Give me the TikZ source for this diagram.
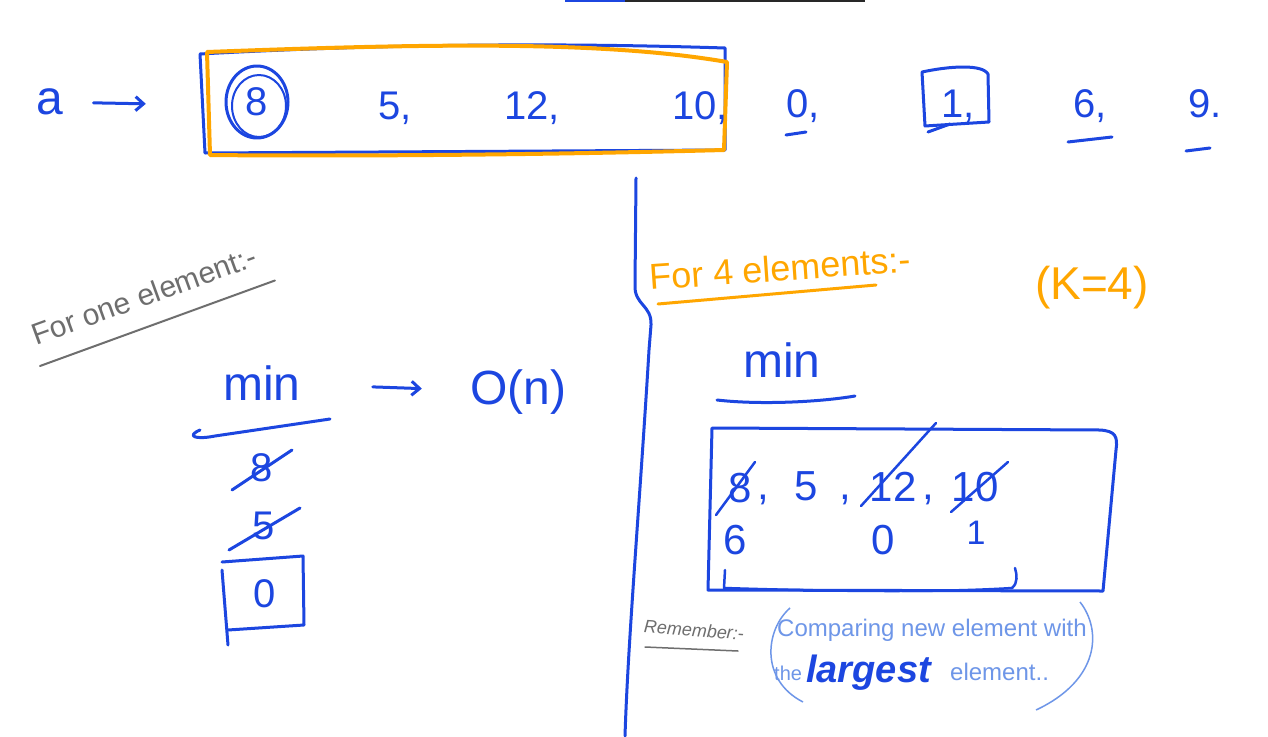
\documentclass[tikz,border=0pt]{standalone}
\usepackage{fontspec}
\setmainfont{Liberation Sans}
\usetikzlibrary{arrows.meta,shapes.geometric}
\definecolor{pen}{RGB}{28,70,224}
\definecolor{hi}{RGB}{255,166,0}
\definecolor{pencil}{RGB}{110,110,110}
\definecolor{soft}{RGB}{110,150,232}
\definecolor{bar}{RGB}{40,40,40}
\tikzset{
  ink/.style={draw=pen,line width=3pt,line cap=round,line join=round},
  hink/.style={draw=hi,line width=4pt,line cap=round,line join=round},
  gink/.style={draw=pencil,line width=2pt,line cap=round},
  num/.style={text=pen,font=\fontsize{40}{42}\selectfont,inner sep=0pt},
  bignum/.style={text=pen,font=\fontsize{48}{50}\selectfont,inner sep=0pt},
  cell/.style={text=pen,font=\fontsize{42}{44}\selectfont,inner sep=0pt},
  arr/.style={ink,-{Straight Barb[length=8pt,width=14pt]}}
}
\begin{document}
\begin{tikzpicture}[x=1pt,y=-1pt]
\useasboundingbox[fill=white] (0,0) rectangle (1268,736);
% top screen bar
\fill[pen] (565,0) rectangle (625,2);
\fill[bar] (625,0) rectangle (865,1.5);
% --- top row ---
\node[bignum] (a) at (50,102) {a};
\draw[ink] (200,54) .. controls (420,42) and (600,44) .. (725,48) -- (725,150) -- (205,153) -- cycle;
\draw[hink] (207,52) .. controls (420,44) and (600,40) .. (727,62) -- (724,150) .. controls (500,156) and (300,156) .. (210,155) -- cycle;
\node[inner sep=0pt,minimum width=2pt] (arr) at (207,105) {};
\draw[arr,shorten <=30pt,shorten >=60pt] (a) -- (arr);
\node[num] (e8) at (257,102) {8};
\draw[ink] (e8) ellipse (31pt and 36pt);
\draw[ink,line width=2pt] (259,106) ellipse (27pt and 31pt);
\node[num] (e5) at (395,108) {5,};
\node[num] (e12) at (532,108) {12,};
\node[num] (e10) at (700,108) {10,};
\node[num] (e0) at (803,106) {0,};
\draw[ink] (786,135) -- (806,132);
\node[num] (e1) at (958,106) {1,};
\draw[ink] (922,72) .. controls (950,66) and (982,64) .. (988,74) -- (989,122) -- (925,126) -- cycle;
\draw[ink] (928,132) -- (950,124);
\node[num] (e6) at (1090,106) {6,};
\draw[ink] (1068,142) -- (1112,137);
\node[num] (e9) at (1205,104) {9.};
\draw[ink] (1186,151) -- (1210,148);
% --- divider ---
\draw[ink] (636,178) -- (635,285) .. controls (634,305) and (652,305) .. (651,325) -- (649,350) .. controls (640,500) and (628,640) .. (625,736);
% --- left part ---
\node[text=pencil,font=\fontsize{30}{32}\selectfont,rotate=20,anchor=base west,inner sep=0pt] (one) at (36,346) {For one element:-};
\draw[gink] (40,366) -- ++(-20:250);
\node[bignum] (min1) at (262,383) {min};
\draw[ink] (200,430) .. controls (186,436) and (195,440) .. (215,436) -- (330,419);
\node[bignum] (on) at (518,392) {O(n)};
\draw[arr,shorten <=72pt,shorten >=48pt] (min1) -- (on);
\node[num] (s8) at (262,468) {8};
\draw[ink] (232,490) -- (292,450);
\node[num] (s5) at (264,526) {5};
\draw[ink] (229,550) -- (300,508);
\node[num] (z0) at (265,594) {0};
\draw[ink] (222,570) -- (228,645);
\draw[ink] (222,562) -- (303,556) -- (304,625) -- (228,630);
% --- right part ---
\node[text=hi,font=\fontsize{36}{38}\selectfont,rotate=4,anchor=base west,inner sep=0pt] (four) at (650,290) {For 4 elements:-};
\draw[hink,line width=3pt] (658,304) -- (876,285);
\node[text=hi,font=\fontsize{46}{48}\selectfont,inner sep=0pt] (k4) at (1092,288) {(K=4)};
\node[bignum] (min2) at (782,360) {min};
\draw[ink] (717,400) .. controls (760,405) and (820,402) .. (855,396);
\draw[ink] (712,428) -- (1100,430) .. controls (1115,431) and (1118,436) .. (1116,450) -- (1103,591) -- (708,590) -- cycle;
\node[cell] (c8) at (740,488) {8};
\node[cell] (cm1) at (763,500) {,};
\node[cell] (c5) at (806,486) {5};
\node[cell] (cm2) at (845,500) {,};
\node[cell] (c12) at (893,487) {12};
\node[cell] (cm3) at (928,500) {,};
\node[cell] (c10) at (975,487) {10};
\draw[ink,line width=2.5pt] (716,515) -- (755,462);
\draw[ink,line width=2.5pt] (861,506) -- (936,423);
\draw[ink,line width=2.5pt] (951,512) -- (1008,462);
\node[cell] (c6) at (735,540) {6};
\node[cell] (c0) at (883,540) {0};
\node[cell,font=\fontsize{34}{36}\selectfont] (c1) at (976,533) {1};
\draw[ink,line width=2.5pt] (725,570) -- (724,588) .. controls (850,592) and (950,592) .. (1012,588) .. controls (1018,583) and (1017,575) .. (1015,568);
% remember note
\node[text=pencil,font=\fontsize{18}{20}\selectfont\itshape,rotate=-4,inner sep=0pt] (rem) at (694,630) {Remember:-};
\draw[gink,line width=1.5pt] (645,647) -- (738,651);
\node[text=soft,font=\fontsize{24}{26}\selectfont,inner sep=0pt,anchor=base west] (note1) at (777,636) {Comparing new element with};
\node[text=soft,font=\fontsize{20}{22}\selectfont,inner sep=0pt,anchor=base west] (the) at (774,680) {the};
\node[text=pen,font=\fontsize{38}{40}\selectfont\bfseries\itshape,inner sep=0pt,anchor=base west] (lg) at (806,682) {largest};
\node[text=soft,font=\fontsize{24}{26}\selectfont,inner sep=0pt,anchor=base west] (el) at (950,680) {element..};
\draw[draw=soft,line width=1.5pt] (790,608) .. controls (765,630) and (760,680) .. (803,702);
\draw[draw=soft,line width=1.5pt] (1080,602) .. controls (1102,630) and (1100,680) .. (1036,710);
\end{tikzpicture}
\end{document}
